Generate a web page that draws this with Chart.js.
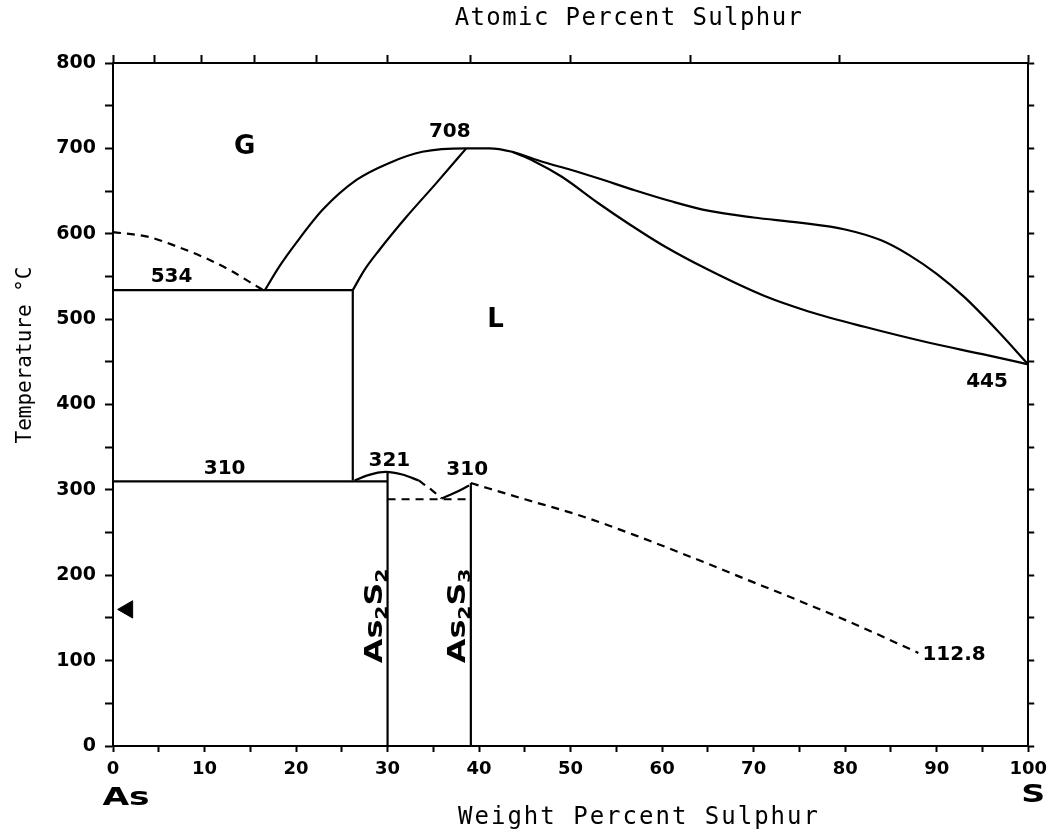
<!DOCTYPE html>
<html>
<head>
<meta charset="utf-8">
<script src="https://cdn.jsdelivr.net/npm/chart.js@4.4.0/dist/chart.umd.min.js"></script>
<style>
  html, body { margin: 0; padding: 0; background: #fff; }
  #wrap { width: 1054px; height: 838px; }
</style>
</head>
<body>
<div id="wrap"><canvas id="phase"></canvas></div>
<script>
// As-S phase diagram (x = weight % S, y = deg C)
var atomicTicks = [0, 10, 20, 30, 40, 50, 60, 70, 80, 90, 100]; // atomic % S, top axis
var massAs = 74.92;
var massS = 32.06;

var vapourAs = [[0, 602], [4, 596], [7, 585], [10, 572], [13, 556], [15, 543], [16.4, 534]];
var line534 = [[0, 534], [26.2, 534]];
var step26 = [[26.2, 534], [26.2, 311]];
var line310 = [[0, 310], [30, 310]];
var outerCurve = [[16.6, 534], [18.2, 562], [20, 589], [22.9, 628], [26.6, 663], [30.2, 683], [33.8, 696], [38.6, 700], [41.1, 700], [43.6, 696],
  [47, 684], [50, 675], [53, 665], [57, 651], [61, 638], [65, 627], [70, 619], [75, 613], [80, 605], [84, 592], [87, 575], [90, 553], [93, 526], [96.6, 487], [100, 447]];
var lowerBranch = [[43.6, 696], [46, 685], [49, 667], [53, 636], [56.3, 612], [60.3, 585], [65, 558], [71.2, 527], [76, 509], [82.1, 491], [89.3, 472], [95, 459], [100, 447]];
var innerCurve = [[26.2, 534], [27.5, 558], [29.1, 581], [32, 619], [35.3, 659], [38.6, 700]];
var arc321 = [[26.4, 311], [27.8, 317], [29.8, 321], [31.6, 318], [33.4, 311]];
var arc321Dash = [[33.4, 311], [34.8, 300], [35.9, 290]];
var rise310 = [[35.9, 290], [37.4, 297], [38.9, 305]];
var sulphurDash = [[39.1, 308], [45, 289], [51, 270], [57, 247], [63, 222], [69, 196], [75, 170], [81, 143], [88, 109]];
var line289 = [[30, 289], [39.1, 289]];
var as2s2 = [[30, 321], [30, 0]];
var as2s3 = [[39.1, 308], [39.1, 0]];
var arrowMark = [[1.6, 160]];

// text labels: [text, x, y]
var numberLabels = [["708", 36.8, 719], ["534", 6.4, 549], ["310", 12.2, 325], ["321", 30.2, 334], ["310", 38.7, 323], ["445", 95.5, 427], ["112.8", 91.9, 107]];
var phaseLabels = [["G", 14.4, 701], ["L", 41.8, 499]];

function atomicToWeight(a) {
  return (a * massS) / (a * massS + (100 - a) * massAs) * 100;
}

function pts(arr) {
  return arr.map(function (p) { return { x: p[0], y: p[1] }; });
}

function line(arr, dashed, smooth) {
  return {
    data: pts(arr),
    showLine: true,
    borderColor: "#000",
    borderWidth: 2.2,
    pointRadius: 0,
    borderDash: dashed ? [8, 6] : [],
    tension: smooth ? 0.4 : 0,
    cubicInterpolationMode: smooth ? "monotone" : "default",
  };
}

function drawFormula(ctx, parts, size) {
  var x = 0;
  parts.forEach(function (p) {
    var sub = p[1];
    ctx.font = "bold " + (sub ? Math.round(size * 0.62) : size) + "px 'DejaVu Sans'";
    ctx.fillText(p[0], x, sub ? size * 0.22 : 0);
    x += ctx.measureText(p[0]).width;
  });
}

var textPlugin = {
  id: "phaseText",
  afterDatasetsDraw: function (chart) {
    var ctx = chart.ctx;
    var xs = chart.scales.x;
    var ys = chart.scales.y;
    ctx.save();
    ctx.fillStyle = "#000";
    ctx.textAlign = "center";
    ctx.textBaseline = "middle";

    ctx.font = "bold 20px 'DejaVu Sans'";
    numberLabels.forEach(function (l) {
      ctx.fillText(l[0], xs.getPixelForValue(l[1]), ys.getPixelForValue(l[2]));
    });
    ctx.font = "bold 26px 'DejaVu Sans'";
    phaseLabels.forEach(function (l) {
      ctx.fillText(l[0], xs.getPixelForValue(l[1]), ys.getPixelForValue(l[2]));
    });

    // compound labels along the vertical lines
    ctx.textAlign = "left";
    ctx.textBaseline = "alphabetic";
    [[as2s2[0][0], [["As", 0], ["2", 1], ["S", 0], ["2", 1]]], [as2s3[0][0], [["As", 0], ["2", 1], ["S", 0], ["3", 1]]]].forEach(function (c) {
      ctx.save();
      ctx.translate(xs.getPixelForValue(c[0]) - 6, ys.getPixelForValue(97));
      ctx.rotate(-Math.PI / 2);
      ctx.scale(1.27, 1);
      drawFormula(ctx, c[1], 25);
      ctx.restore();
    });

    // element names under the ends
    ctx.textAlign = "center";
    ctx.font = "bold 25px 'DejaVu Sans'";
    ctx.save();
    ctx.translate(xs.getPixelForValue(0) + 13, 805);
    ctx.scale(1.38, 1);
    ctx.fillText("As", 0, 0);
    ctx.restore();
    ctx.save();
    ctx.translate(xs.getPixelForValue(100) + 5, 802);
    ctx.scale(1.33, 1);
    ctx.fillText("S", 0, 0);
    ctx.restore();

    // axis titles
    ctx.textBaseline = "middle";
    ctx.font = "24px 'DejaVu Sans Mono'";
    ctx.letterSpacing = "1.4px";
    ctx.fillText("Atomic Percent Sulphur", 629, 19);
    ctx.letterSpacing = "2px";
    ctx.fillText("Weight Percent Sulphur", 639, 818);
    ctx.font = "21px 'DejaVu Sans Mono'";
    ctx.letterSpacing = "0px";
    ctx.translate(26, 355);
    ctx.rotate(-Math.PI / 2);
    ctx.fillText("Temperature \u00B0C", 0, 0);
    ctx.restore();
  },
};

var axisLine = { display: true, color: "#000", width: 2 };
function tickGrid(len) {
  return { display: true, drawOnChartArea: false, drawTicks: true, tickLength: len, tickWidth: 2, tickColor: "#000" };
}

var datasets = [
  line(vapourAs, true, true),
  line(line534, false, false),
  line(step26, false, false),
  line(line310, false, false),
  line(outerCurve, false, true),
  line(lowerBranch, false, true),
  line(innerCurve, false, true),
  line(arc321, false, true),
  line(arc321Dash, true, true),
  line(rise310, false, true),
  line(sulphurDash, true, true),
  line(line289, true, false),
  line(as2s2, false, false),
  line(as2s3, false, false),
  {
    data: pts(arrowMark),
    showLine: false,
    pointStyle: "triangle",
    rotation: -90,
    pointRadius: 10,
    backgroundColor: "#000",
    borderColor: "#000",
    borderWidth: 1,
  },
];

new Chart(document.getElementById("phase"), {
  type: "scatter",
  data: { datasets: datasets },
  options: {
    responsive: true,
    maintainAspectRatio: false,
    animation: false,
    layout: { padding: 0 },
    plugins: { legend: { display: false }, tooltip: { enabled: false }, title: { display: false } },
    scales: {
      x: {
        type: "linear",
        position: "bottom",
        min: 0,
        max: 100,
        afterFit: function (scale) { scale.height = 92; },
        ticks: {
          stepSize: 5,
          autoSkip: false,
          maxRotation: 0,
          padding: 7,
          color: "#000",
          font: { family: "'DejaVu Sans'", size: 18, weight: "bold" },
          callback: function (v) { return v % 10 === 0 ? v : ""; },
        },
        grid: tickGrid(6),
        border: axisLine,
      },
      xTop: {
        type: "linear",
        position: "top",
        min: 0,
        max: 100,
        afterFit: function (scale) { scale.height = 63; },
        afterBuildTicks: function (scale) {
          scale.ticks = atomicTicks.map(function (a) { return { value: atomicToWeight(a) }; });
        },
        ticks: { display: false },
        grid: tickGrid(8),
        border: axisLine,
      },
      y: {
        type: "linear",
        position: "left",
        min: 0,
        max: 800,
        afterFit: function (scale) { scale.width = 113; },
        ticks: {
          stepSize: 50,
          autoSkip: false,
          padding: 9,
          color: "#000",
          font: { family: "'DejaVu Sans'", size: 19, weight: "bold" },
          callback: function (v) { return v % 100 === 0 ? v : ""; },
        },
        grid: tickGrid(8),
        border: axisLine,
      },
      yRight: {
        type: "linear",
        position: "right",
        min: 0,
        max: 800,
        afterFit: function (scale) { scale.width = 23; },
        ticks: { display: false, stepSize: 50 },
        grid: tickGrid(6),
        border: axisLine,
      },
    },
  },
  plugins: [textPlugin],
});
</script>
</body>
</html>
